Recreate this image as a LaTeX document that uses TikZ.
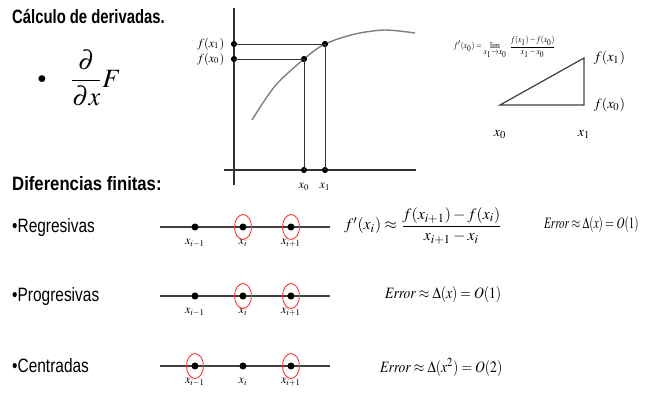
\documentclass[tikz,border=0pt]{standalone}
\usepackage{amsmath}
\usepackage{graphicx}
\usepackage{mathptmx}
\usepackage[no-math]{fontspec}
\newfontfamily\arialn[FakeStretch=0.8]{Liberation Sans}
\usetikzlibrary{positioning}
\newcommand{\estrecho}[2]{\scalebox{#1}[1]{#2}}

\tikzset{
  dot/.style={circle,fill=black,inner sep=0pt,minimum size=4pt},
  titulo/.style={anchor=west,font=\arialn\bfseries\fontsize{11}{13}\selectfont},
  fila/.style={anchor=west,font=\arialn\fontsize{11}{13}\selectfont},
  eje/.style={draw=black!80,line width=0.6pt},
  recta/.style={draw=black!75,line width=1.1pt},
  marca/.style={draw=red!80,line width=0.5pt},
  formula/.style={font=\fontsize{9}{10}\selectfont},
  etiq/.style={font=\fontsize{7}{8}\selectfont}
}

\begin{document}
\begin{tikzpicture}[x=0.02cm,y=-0.02cm]
\useasboundingbox (0,0) rectangle (645,393);

% encabezado y derivada
\node[titulo] (calc) at (6,17) {\estrecho{0.96}{Cálculo de derivadas.}};
\node[font=\fontsize{10}{11}\selectfont] (bul) at (42,80) {$\bullet$};
\node[anchor=west,font=\fontsize{15}{16}\selectfont] (deriv) at (64,78) {$\dfrac{\partial}{\partial x}F$};

% grafica de f
\coordinate (ytop) at (234,8);   \coordinate (ybot) at (234,185);
\coordinate (xizq) at (224,170); \coordinate (xder) at (416,170);
\draw[eje] (ytop) -- (ybot);
\draw[eje] (xizq) -- (xder);
\draw[gray,line width=0.8pt] plot[smooth] coordinates {(252,120) (275,86) (304,59) (325,44) (355,34) (385,30) (415,33)};
\foreach \k/\xx/\yy in {0/304/59,1/325/44}{
  \node[dot,minimum size=3.5pt] (p\k) at (\xx,\yy) {};
  \node[dot,minimum size=3.5pt] (a\k) at (234,\yy) {};
  \node[dot,minimum size=3.5pt] (b\k) at (\xx,170) {};
  \draw[black!80,line width=0.5pt] (a\k.center) -- (p\k.center) -- (b\k.center);
  \node[etiq,left=2pt of a\k.center] (fa\k) {$f(x_\k)$};
  \node[etiq,below=4pt of b\k.center] (xb\k) {$x_\k$};
}

% triangulo
\coordinate (t0) at (500,105); \coordinate (t1) at (584,105); \coordinate (t2) at (584,58);
\draw[black!75,line width=0.7pt] (t0) -- (t1) -- (t2) -- cycle;
\node[etiq,font=\fontsize{8}{9}\selectfont,right=2pt of t2] (ft1) {$f(x_1)$};
\node[etiq,font=\fontsize{8}{9}\selectfont,right=2pt of t1] (ft0) {$f(x_0)$};
\node[etiq,font=\fontsize{8}{9}\selectfont,below=11pt of t0] (xt0) {$x_0$};
\node[etiq,font=\fontsize{8}{9}\selectfont,below=11pt of t1] (xt1) {$x_1$};
\node[font=\fontsize{5}{6}\selectfont] (lim) at (505,47) {\estrecho{0.85}{$f'(x_0)=\lim\limits_{x_1\to x_0}\;\dfrac{f(x_1)-f(x_0)}{x_1-x_0}$}};

% diferencias finitas
\node[titulo] (dif) at (6,184) {\estrecho{1.08}{Diferencias finitas:}};
\foreach \r/\yy/\lab in {reg/227/Regresivas,pro/296/Progresivas,cen/366/Centradas}{
  \node[fila] (\r-lab) at (6,\yy) {•\lab};
  \coordinate (\r-l) at (160,\yy); \coordinate (\r-r) at (330,\yy);
  \draw[recta] (\r-l) -- (\r-r);
  \foreach \n/\xx/\sub in {1/195/{i-1},2/243/i,3/291/{i+1}}{
    \node[dot] (\r-\n) at (\xx,\yy) {};
    \node[etiq,below=1pt of \r-\n] (\r-x\n) {$x_{\sub}$};
  }
}
\foreach \n in {reg-2,reg-3,pro-2,pro-3,cen-1,cen-3}
  \draw[marca] (\n.center) ellipse [x radius=8.5,y radius=12.5];

\node[formula,anchor=west] (deriv-reg) at (338,226) {$f'(x_i)\approx\dfrac{f(x_{i+1})-f(x_i)}{x_{i+1}-x_i}$};
\node[formula,anchor=west] (err-reg) at (538,225) {\estrecho{0.7}{$\mathit{Error}\approx\Delta(x)=O(1)$}};
\node[formula,anchor=west] (err-pro) at (379,295) {\estrecho{0.86}{$\mathit{Error}\approx\Delta(x)=O(1)$}};
\node[formula,anchor=west] (err-cen) at (374,367) {\estrecho{0.86}{$\mathit{Error}\approx\Delta(x^2)=O(2)$}};
\end{tikzpicture}
\end{document}
